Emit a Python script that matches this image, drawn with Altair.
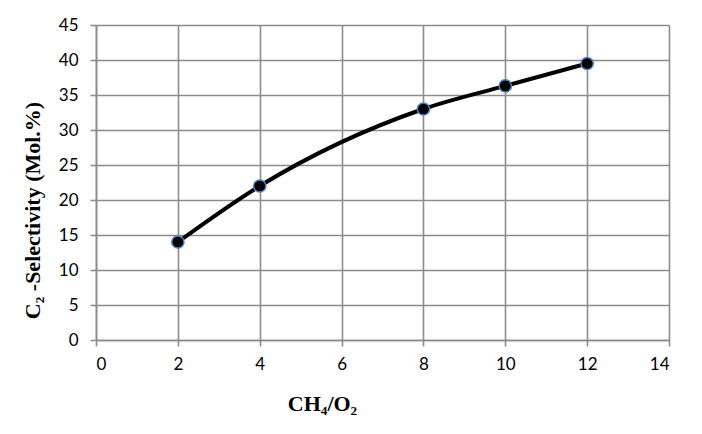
import altair as alt
import pandas as pd

ratio = [2, 4, 8, 10, 12]
selectivity = [14.0, 22.0, 33.0, 36.3, 39.5]

df = pd.DataFrame({"ratio": ratio, "sel": selectivity})

grid = "#8c8c8c"

x = alt.X("ratio:Q", scale=alt.Scale(domain=[0, 14], nice=False),
          axis=alt.Axis(values=[0, 2, 4, 6, 8, 10, 12, 14], title="CH₄/O₂",
                        titleFont="Liberation Serif", titleFontSize=22, titleFontWeight="bold",
                        titleColor="black", titleX=226, titleY=70, titleBaseline="alphabetic",
                        titleAnchor="start", titleAlign="center",
                        labelFont="Lato", labelFontSize=17, labelColor="black", labelPadding=10,
                        tickSize=6, tickColor=grid, domainColor=grid, gridColor=grid,
                        gridWidth=1.6, tickWidth=1.6, domainWidth=1.6))
y = alt.Y("sel:Q", scale=alt.Scale(domain=[0, 45], nice=False),
          axis=alt.Axis(values=list(range(0, 50, 5)), title="C₂ -Selectivity (Mol.%)",
                        titleFont="Liberation Serif", titleFontSize=22, titleFontWeight="bold",
                        titleColor="black", titleX=-57, titleY=185, titleBaseline="alphabetic",
                        titleAngle=-90, titleAlign="center", titleAnchor="start",
                        labelFont="Lato", labelFontSize=17, labelColor="black", labelPadding=12,
                        tickSize=6, tickColor=grid, domainColor=grid, gridColor=grid,
                        gridWidth=1.6, tickWidth=1.6, domainWidth=1.6))

line = alt.Chart(df).mark_line(color="black", strokeWidth=4, interpolate="monotone").encode(x=x, y=y)
pts = alt.Chart(df).mark_point(filled=True, fill="black", stroke="#4f81bd", strokeWidth=1.5,
                               size=150, opacity=1, shape="circle").encode(x=x, y=y)

chart = (line + pts).properties(
    width=573, height=315,
    autosize=alt.AutoSizeParams(type="none"),
    padding={"left": 88, "top": 17, "right": 25, "bottom": 86},
).configure_view(stroke=None).configure(background="white")

chart.save("out.html", embed_options={"renderer": "svg", "actions": False})
